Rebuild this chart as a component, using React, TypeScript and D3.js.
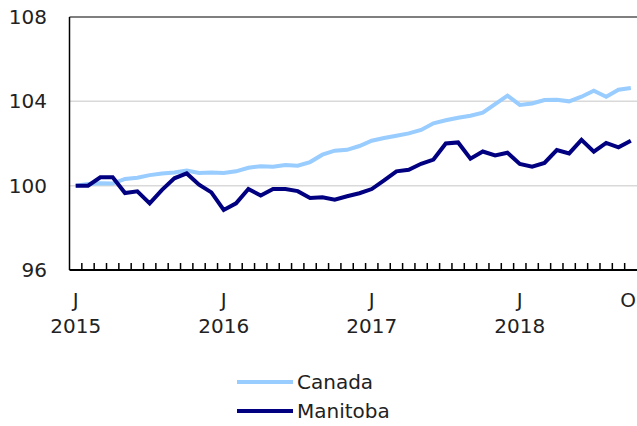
import React from 'react';
import * as d3 from 'd3';

// chart size
const svgWidth = 637;
const svgHeight = 426;
const plotLeft = 69.5;
const plotRight = 637;
const plotTop = 17;
const plotBottom = 270;

// monthly index, Jan 2015 .. Oct 2018
const months = d3.range(46);
const canada = [
  100.0, 100.08, 100.12, 100.1, 100.32, 100.38, 100.5, 100.58, 100.62, 100.72, 100.6, 100.63,
  100.6, 100.68, 100.85, 100.92, 100.9, 100.98, 100.95, 101.12, 101.47, 101.66, 101.7, 101.88,
  102.13, 102.26, 102.37, 102.48, 102.64, 102.96, 103.1, 103.22, 103.32, 103.46, 103.87, 104.27,
  103.83, 103.9, 104.06, 104.07, 104.0, 104.22, 104.5, 104.22, 104.55, 104.63,
];
const manitoba = [
  100.0, 100.0, 100.4, 100.4, 99.65, 99.73, 99.16, 99.8, 100.35, 100.58, 100.05, 99.68,
  98.85, 99.16, 99.84, 99.53, 99.84, 99.84, 99.74, 99.42, 99.45, 99.33, 99.5, 99.64,
  99.84, 100.25, 100.68, 100.75, 101.04, 101.24, 102.0, 102.05, 101.28, 101.62, 101.43, 101.56,
  101.03, 100.9, 101.08, 101.69, 101.53, 102.17, 101.61, 102.03, 101.82, 102.13,
];
const yTicks = [96, 100, 104, 108];
const xLabelIdx = [0, 12, 24, 36, 45];
const xLabels = [['J', '2015'], ['J', '2016'], ['J', '2017'], ['J', '2018'], ['O']];

const series = [
  { name: 'Canada', values: canada, color: '#99ccff' },
  { name: 'Manitoba', values: manitoba, color: '#000080' },
];

const font = 'Verdana, "DejaVu Sans", sans-serif';

export default function App() {
  const x = d3.scaleBand<number>().domain(months).range([plotLeft, plotRight]);
  const bw = x.bandwidth();
  const cx = (i: number) => (x(i) as number) + bw / 2;
  const y = d3.scaleLinear().domain([96, 108]).range([plotBottom, plotTop]);

  const line = d3
    .line<number>()
    .x((_, i) => cx(i))
    .y((d) => y(d));

  return (
    <svg
      width={svgWidth}
      height={svgHeight}
      style={{ position: 'absolute', left: 0, top: 0, display: 'block' }}
      fontFamily={font}
    >
      {/* gridlines */}
      {yTicks.slice(1).map((t) => (
        <line
          key={t}
          x1={plotLeft}
          x2={plotRight}
          y1={y(t)}
          y2={y(t)}
          stroke={t === 108 ? '#555' : '#d9d9d9'}
          strokeWidth={t === 108 ? 1.5 : 1.5}
        />
      ))}
      {yTicks.map((t) => (
        <text key={t} x={47} y={y(t)} textAnchor="end" dominantBaseline="central" fontSize={20} fill="#222">
          {t}
        </text>
      ))}

      {/* series */}
      {series.map((s) => (
        <path key={s.name} d={line(s.values) || ''} fill="none" stroke={s.color} strokeWidth={4} strokeLinejoin="miter" />
      ))}

      {/* axes */}
      <line x1={plotLeft} x2={plotLeft} y1={plotTop} y2={plotBottom} stroke="#000" strokeWidth={1.5} />
      <line x1={plotLeft} x2={plotRight} y1={plotBottom} y2={plotBottom} stroke="#000" strokeWidth={2} />
      {months.slice(1).map((m) => (
        <line key={m} x1={x(m)} x2={x(m)} y1={plotBottom} y2={plotBottom - 7} stroke="#000" strokeWidth={1.5} />
      ))}
      {xLabelIdx.map((m, k) => {
        const px = k === xLabelIdx.length - 1 ? Math.min(cx(m), plotRight - 9) : cx(m);
        return (
          <text key={m} x={px} textAnchor="middle" fontSize={20} fill="#222">
            {xLabels[k].map((l, j) => (
              <tspan key={j} x={px} y={307 + j * 26}>
                {l}
              </tspan>
            ))}
          </text>
        );
      })}

      {/* legend */}
      {series.map((s, i) => (
        <g key={s.name} transform={`translate(237,${382 + i * 29})`}>
          <line x1={0} x2={56} y1={0} y2={0} stroke={s.color} strokeWidth={4} />
          <text x={60} y={0} dominantBaseline="central" fontSize={20} fill="#222">
            {s.name}
          </text>
        </g>
      ))}
    </svg>
  );
}
